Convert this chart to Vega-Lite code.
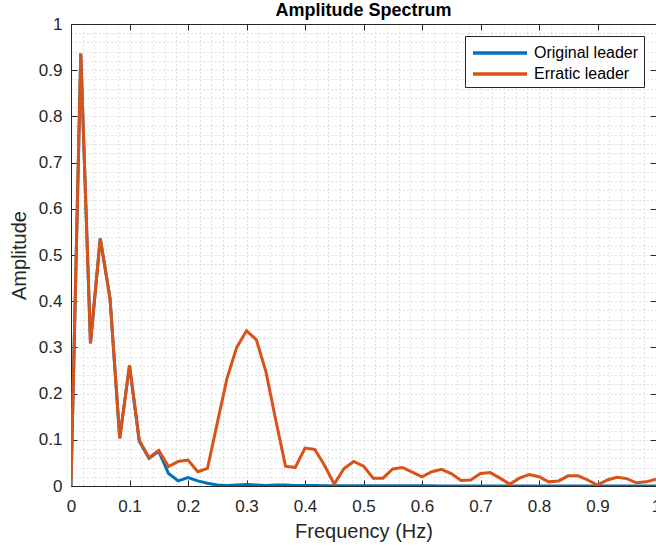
{
  "$schema": "https://vega.github.io/schema/vega-lite/v6.json",
  "width": 585,
  "height": 462,
  "autosize": {"type": "none"},
  "padding": {"left": 71, "top": 24, "right": 0, "bottom": 64},
  "background": "white",
  "title": {"text": "Amplitude Spectrum", "fontSize": 18, "fontWeight": "bold", "font": "Liberation Sans", "color": "#000000", "anchor": "middle", "offset": -5},
  "config": {
    "font": "Liberation Sans",
    "view": {"stroke": null},
    "axis": {"labelFont": "Liberation Sans", "titleFont": "Liberation Sans", "labelColor": "#262626", "titleColor": "#262626", "domainColor": "#262626", "tickColor": "#262626", "labelFontSize": 17, "titleFontSize": 20, "titleFontWeight": "normal"}
  },
  "data": {"values": [
    {"f": 0, "a": 0, "s": "Original leader"},
    {"f": 0.0167, "a": 0.936, "s": "Original leader"},
    {"f": 0.0333, "a": 0.309, "s": "Original leader"},
    {"f": 0.05, "a": 0.536, "s": "Original leader"},
    {"f": 0.0667, "a": 0.406, "s": "Original leader"},
    {"f": 0.0833, "a": 0.103, "s": "Original leader"},
    {"f": 0.1, "a": 0.261, "s": "Original leader"},
    {"f": 0.1167, "a": 0.097, "s": "Original leader"},
    {"f": 0.1333, "a": 0.06, "s": "Original leader"},
    {"f": 0.15, "a": 0.075, "s": "Original leader"},
    {"f": 0.1667, "a": 0.027, "s": "Original leader"},
    {"f": 0.1833, "a": 0.011, "s": "Original leader"},
    {"f": 0.2, "a": 0.018, "s": "Original leader"},
    {"f": 0.2167, "a": 0.011, "s": "Original leader"},
    {"f": 0.2333, "a": 0.006, "s": "Original leader"},
    {"f": 0.25, "a": 0.002, "s": "Original leader"},
    {"f": 0.2667, "a": 0.001, "s": "Original leader"},
    {"f": 0.2833, "a": 0.002, "s": "Original leader"},
    {"f": 0.3, "a": 0.003, "s": "Original leader"},
    {"f": 0.3167, "a": 0.002, "s": "Original leader"},
    {"f": 0.3333, "a": 0.001, "s": "Original leader"},
    {"f": 0.35, "a": 0.002, "s": "Original leader"},
    {"f": 0.3667, "a": 0.002, "s": "Original leader"},
    {"f": 0.3833, "a": 0.001, "s": "Original leader"},
    {"f": 0.4, "a": 0.001, "s": "Original leader"},
    {"f": 0.4167, "a": 0.001, "s": "Original leader"},
    {"f": 0.4333, "a": 0.0005, "s": "Original leader"},
    {"f": 0.45, "a": 0.0005, "s": "Original leader"},
    {"f": 0.4667, "a": 0.0005, "s": "Original leader"},
    {"f": 0.4833, "a": 0.0005, "s": "Original leader"},
    {"f": 0.5, "a": 0.0005, "s": "Original leader"},
    {"f": 0.5167, "a": 0.0005, "s": "Original leader"},
    {"f": 0.5333, "a": 0.0003, "s": "Original leader"},
    {"f": 0.55, "a": 0.0003, "s": "Original leader"},
    {"f": 0.5667, "a": 0.0003, "s": "Original leader"},
    {"f": 0.5833, "a": 0.0003, "s": "Original leader"},
    {"f": 0.6, "a": 0.0003, "s": "Original leader"},
    {"f": 0.6167, "a": 0.0003, "s": "Original leader"},
    {"f": 0.6333, "a": 0.0002, "s": "Original leader"},
    {"f": 0.65, "a": 0.0002, "s": "Original leader"},
    {"f": 0.6667, "a": 0.0002, "s": "Original leader"},
    {"f": 0.6833, "a": 0.0002, "s": "Original leader"},
    {"f": 0.7, "a": 0.0002, "s": "Original leader"},
    {"f": 0.7167, "a": 0.0002, "s": "Original leader"},
    {"f": 0.7333, "a": 0.0001, "s": "Original leader"},
    {"f": 0.75, "a": 0.0001, "s": "Original leader"},
    {"f": 0.7667, "a": 0.0001, "s": "Original leader"},
    {"f": 0.7833, "a": 0.0001, "s": "Original leader"},
    {"f": 0.8, "a": 0.0001, "s": "Original leader"},
    {"f": 0.8167, "a": 0.0001, "s": "Original leader"},
    {"f": 0.8333, "a": 0.0001, "s": "Original leader"},
    {"f": 0.85, "a": 0.0001, "s": "Original leader"},
    {"f": 0.8667, "a": 0.0001, "s": "Original leader"},
    {"f": 0.8833, "a": 0.0001, "s": "Original leader"},
    {"f": 0.9, "a": 0.0001, "s": "Original leader"},
    {"f": 0.9167, "a": 0.0001, "s": "Original leader"},
    {"f": 0.9333, "a": 0.0001, "s": "Original leader"},
    {"f": 0.95, "a": 0.0001, "s": "Original leader"},
    {"f": 0.9667, "a": 0.0001, "s": "Original leader"},
    {"f": 0.9833, "a": 0.0001, "s": "Original leader"},
    {"f": 1, "a": 0.0001, "s": "Original leader"},
    {"f": 0, "a": 0, "s": "Erratic leader"},
    {"f": 0.0167, "a": 0.936, "s": "Erratic leader"},
    {"f": 0.0333, "a": 0.309, "s": "Erratic leader"},
    {"f": 0.05, "a": 0.536, "s": "Erratic leader"},
    {"f": 0.0667, "a": 0.406, "s": "Erratic leader"},
    {"f": 0.0833, "a": 0.103, "s": "Erratic leader"},
    {"f": 0.1, "a": 0.261, "s": "Erratic leader"},
    {"f": 0.1167, "a": 0.099, "s": "Erratic leader"},
    {"f": 0.1333, "a": 0.061, "s": "Erratic leader"},
    {"f": 0.15, "a": 0.077, "s": "Erratic leader"},
    {"f": 0.1667, "a": 0.042, "s": "Erratic leader"},
    {"f": 0.1833, "a": 0.053, "s": "Erratic leader"},
    {"f": 0.2, "a": 0.056, "s": "Erratic leader"},
    {"f": 0.2167, "a": 0.031, "s": "Erratic leader"},
    {"f": 0.2333, "a": 0.038, "s": "Erratic leader"},
    {"f": 0.25, "a": 0.136, "s": "Erratic leader"},
    {"f": 0.2667, "a": 0.233, "s": "Erratic leader"},
    {"f": 0.2833, "a": 0.3, "s": "Erratic leader"},
    {"f": 0.3, "a": 0.336, "s": "Erratic leader"},
    {"f": 0.3167, "a": 0.317, "s": "Erratic leader"},
    {"f": 0.3333, "a": 0.247, "s": "Erratic leader"},
    {"f": 0.35, "a": 0.143, "s": "Erratic leader"},
    {"f": 0.3667, "a": 0.043, "s": "Erratic leader"},
    {"f": 0.3833, "a": 0.04, "s": "Erratic leader"},
    {"f": 0.4, "a": 0.082, "s": "Erratic leader"},
    {"f": 0.4167, "a": 0.079, "s": "Erratic leader"},
    {"f": 0.4333, "a": 0.045, "s": "Erratic leader"},
    {"f": 0.45, "a": 0.004, "s": "Erratic leader"},
    {"f": 0.4667, "a": 0.038, "s": "Erratic leader"},
    {"f": 0.4833, "a": 0.053, "s": "Erratic leader"},
    {"f": 0.5, "a": 0.043, "s": "Erratic leader"},
    {"f": 0.5167, "a": 0.017, "s": "Erratic leader"},
    {"f": 0.5333, "a": 0.017, "s": "Erratic leader"},
    {"f": 0.55, "a": 0.037, "s": "Erratic leader"},
    {"f": 0.5667, "a": 0.04, "s": "Erratic leader"},
    {"f": 0.5833, "a": 0.03, "s": "Erratic leader"},
    {"f": 0.6, "a": 0.02, "s": "Erratic leader"},
    {"f": 0.6167, "a": 0.031, "s": "Erratic leader"},
    {"f": 0.6333, "a": 0.036, "s": "Erratic leader"},
    {"f": 0.65, "a": 0.027, "s": "Erratic leader"},
    {"f": 0.6667, "a": 0.012, "s": "Erratic leader"},
    {"f": 0.6833, "a": 0.013, "s": "Erratic leader"},
    {"f": 0.7, "a": 0.027, "s": "Erratic leader"},
    {"f": 0.7167, "a": 0.029, "s": "Erratic leader"},
    {"f": 0.7333, "a": 0.017, "s": "Erratic leader"},
    {"f": 0.75, "a": 0.004, "s": "Erratic leader"},
    {"f": 0.7667, "a": 0.017, "s": "Erratic leader"},
    {"f": 0.7833, "a": 0.025, "s": "Erratic leader"},
    {"f": 0.8, "a": 0.02, "s": "Erratic leader"},
    {"f": 0.8167, "a": 0.009, "s": "Erratic leader"},
    {"f": 0.8333, "a": 0.011, "s": "Erratic leader"},
    {"f": 0.85, "a": 0.022, "s": "Erratic leader"},
    {"f": 0.8667, "a": 0.022, "s": "Erratic leader"},
    {"f": 0.8833, "a": 0.013, "s": "Erratic leader"},
    {"f": 0.9, "a": 0.002, "s": "Erratic leader"},
    {"f": 0.9167, "a": 0.013, "s": "Erratic leader"},
    {"f": 0.9333, "a": 0.019, "s": "Erratic leader"},
    {"f": 0.95, "a": 0.016, "s": "Erratic leader"},
    {"f": 0.9667, "a": 0.007, "s": "Erratic leader"},
    {"f": 0.9833, "a": 0.009, "s": "Erratic leader"},
    {"f": 1, "a": 0.015, "s": "Erratic leader"}
  ]},
  "layer": [
    {
      "mark": {"type": "line", "strokeWidth": 3, "clip": true},
      "encoding": {
        "x": {"field": "f", "type": "quantitative", "title": "Frequency (Hz)",
          "scale": {"domain": [0, 1], "nice": false, "zero": false},
          "axis": {"orient": "bottom",
            "values": [0,0.02,0.04,0.06,0.08,0.1,0.12,0.14,0.16,0.18,0.2,0.22,0.24,0.26,0.28,0.3,0.32,0.34,0.36,0.38,0.4,0.42,0.44,0.46,0.48,0.5,0.52,0.54,0.56,0.58,0.6,0.62,0.64,0.66,0.68,0.7,0.72,0.74,0.76,0.78,0.8,0.82,0.84,0.86,0.88,0.9,0.92,0.94,0.96,0.98,1],
            "labelExpr": "abs(datum.value*10 - round(datum.value*10)) < 0.001 ? format(datum.value, '.1~f') : ''",
            "labelOverlap": false, "labelFlush": false,
            "tickSize": -6, "labelPadding": 18,
            "tickOpacity": {"condition": {"test": "abs(datum.value*10 - round(datum.value*10)) < 0.001", "value": 1}, "value": 0},
            "grid": true, "gridColor": "#c4c4c4", "gridDash": [1, 3], "gridWidth": 1,
            "titlePadding": 7}},
        "y": {"field": "a", "type": "quantitative", "title": "Amplitude",
          "scale": {"domain": [0, 1], "nice": false},
          "axis": {"orient": "left",
            "values": [0,0.02,0.04,0.06,0.08,0.1,0.12,0.14,0.16,0.18,0.2,0.22,0.24,0.26,0.28,0.3,0.32,0.34,0.36,0.38,0.4,0.42,0.44,0.46,0.48,0.5,0.52,0.54,0.56,0.58,0.6,0.62,0.64,0.66,0.68,0.7,0.72,0.74,0.76,0.78,0.8,0.82,0.84,0.86,0.88,0.9,0.92,0.94,0.96,0.98,1],
            "labelExpr": "abs(datum.value*10 - round(datum.value*10)) < 0.001 ? format(datum.value, '.1~f') : ''",
            "labelOverlap": false, "labelFlush": false,
            "tickSize": -6, "labelPadding": 15,
            "tickOpacity": {"condition": {"test": "abs(datum.value*10 - round(datum.value*10)) < 0.001", "value": 1}, "value": 0},
            "grid": true, "gridColor": "#c4c4c4", "gridDash": [1, 3], "gridWidth": 1,
            "titlePadding": 9}},
        "color": {"field": "s", "type": "nominal",
          "scale": {"domain": ["Original leader", "Erratic leader"], "range": ["#0072BD", "#D95319"]},
          "legend": {"title": null, "orient": "top-right", "offset": 12,
            "symbolType": "M-2.7,0H2.7", "symbolSize": 400, "symbolStrokeWidth": 3.5, "symbolOffset": 18, "labelOffset": 22,
            "labelFontSize": 16, "labelFont": "Liberation Sans", "labelColor": "#000000",
            "fillColor": "white", "strokeColor": "#262626", "padding": 5, "rowPadding": 1}}
      }
    },
    {
      "mark": {"type": "point", "opacity": 0},
      "encoding": {
        "x": {"field": "f", "type": "quantitative",
          "axis": {"orient": "top", "title": null, "labels": false, "grid": false, "tickSize": -6,
            "values": [0,0.1,0.2,0.3,0.4,0.5,0.6,0.7,0.8,0.9,1]}},
        "y": {"field": "a", "type": "quantitative",
          "axis": {"orient": "right", "title": null, "labels": false, "grid": false, "tickSize": -6,
            "values": [0,0.1,0.2,0.3,0.4,0.5,0.6,0.7,0.8,0.9,1]}}
      }
    }
  ],
  "resolve": {"axis": {"x": "independent", "y": "independent"}}
}
